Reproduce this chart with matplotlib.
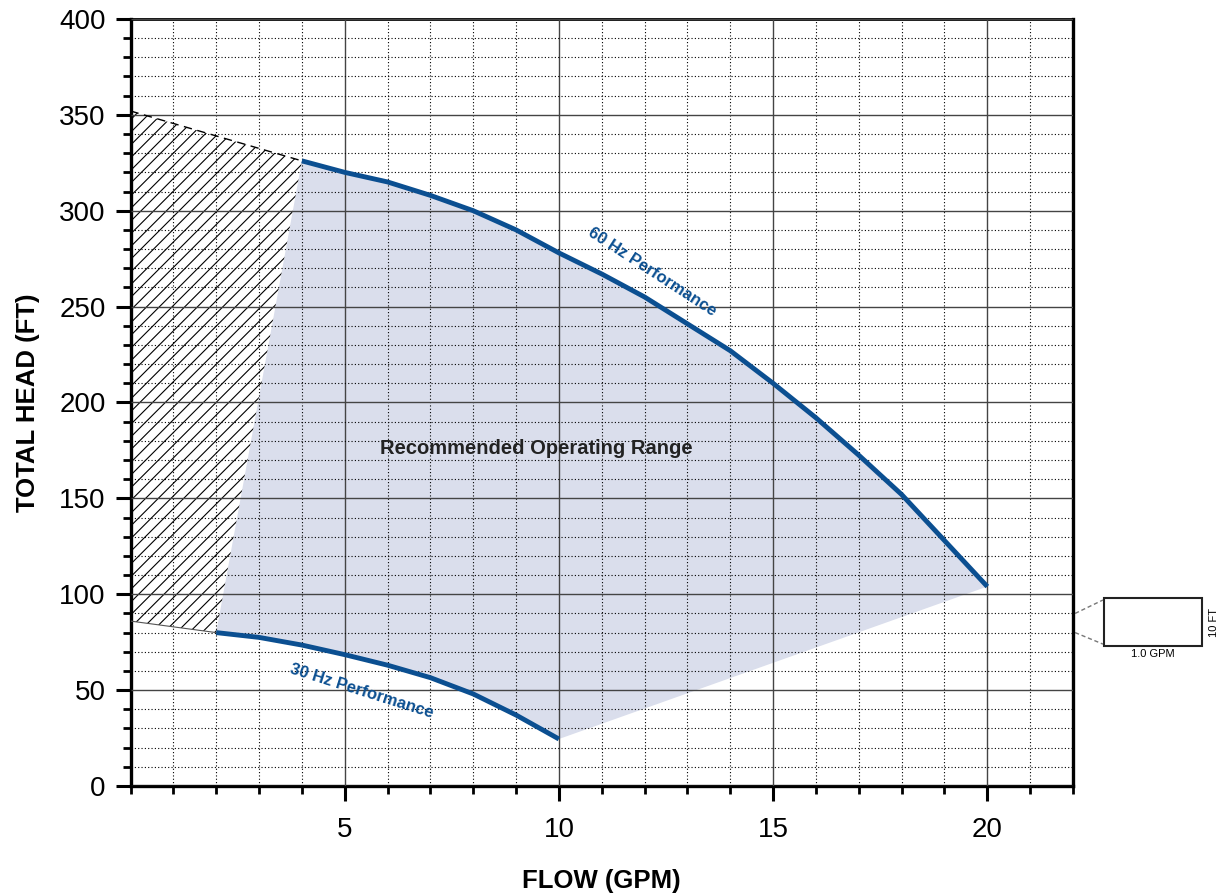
import matplotlib.pyplot as plt
import numpy as np
from matplotlib.patches import Polygon, Rectangle

plt.rcParams['font.family'] = ['Liberation Sans', 'DejaVu Sans']

# 60 Hz pump curve
hz60_flow = [4, 5, 6, 7, 8, 9, 10, 11, 12, 13, 14, 15, 16, 17, 18, 19, 20]
hz60_head = [326, 320, 315, 308, 300, 290, 278, 267, 255, 241, 227, 210, 192, 172.5, 152, 128, 104]
# 30 Hz pump curve
hz30_flow = [2, 3, 4, 5, 6, 7, 8, 9, 10]
hz30_head = [80, 77.5, 73.5, 68.5, 63, 56.5, 48, 37, 24.5]
# extension of the curves into the low-flow zone (hatched)
ext60_flow = [0, 2, 4]
ext60_head = [352, 339, 326]
ext30_flow = [0, 2]
ext30_head = [86, 80]

blue = '#0b4f91'

fig = plt.figure(figsize=(12.2, 8.94), dpi=100)
ax = fig.add_axes([0.107, 0.1208, 0.7725, 0.858])
ax.set_xlim(0, 22)
ax.set_ylim(0, 400)

# recommended range
rng = list(zip(hz60_flow, hz60_head)) + list(zip(hz30_flow[::-1], hz30_head[::-1]))
ax.add_patch(Polygon(rng, closed=True, facecolor='#dadeec', edgecolor='none', zorder=1))

# hatched low flow zone
hz = list(zip(ext60_flow, ext60_head)) + [(hz30_flow[0], hz30_head[0]), (ext30_flow[0], ext30_head[0])]
clip = Polygon(hz, closed=True, facecolor='none', edgecolor='none')
ax.add_patch(clip)
fig.canvas.draw()
ppx = ax.bbox.width / 22
ppy = ax.bbox.height / 400
k = ppx / ppy
dx = 12.7 / ppx
xx = np.array([-1, 6])
for c in np.arange(-20, 6, dx):
    ln, = ax.plot(xx, k * (xx - c), color='k', lw=0.8, zorder=1)
    ln.set_clip_path(clip)
ax.plot(ext60_flow, ext60_head, color='k', lw=1.0, ls=(0, (6, 4)), zorder=3, clip_on=False)
ax.plot(ext30_flow, ext30_head, color='#555555', lw=0.8, zorder=3)

# grid
ax.set_xticks(np.arange(5, 21, 5))
ax.set_xticks(np.arange(0, 23, 1), minor=True)
ax.set_yticks(np.arange(0, 401, 50))
ax.set_yticks(np.arange(0, 401, 10), minor=True)
ax.grid(which='major', color='#444444', lw=1.0, zorder=2)
ax.grid(which='minor', color='k', lw=0.8, ls=(0, (1, 2)), zorder=2)
ax.set_axisbelow(False)

ax.plot(hz60_flow, hz60_head, color=blue, lw=3.5, zorder=4, solid_capstyle='butt')
ax.plot(hz30_flow, hz30_head, color=blue, lw=3.5, zorder=4, solid_capstyle='butt')

ax.text(12.18, 268, '60 Hz Performance', color=blue, fontsize=12, fontweight='bold',
        rotation=-33, ha='center', va='center', zorder=5)
ax.text(5.4, 49.5, '30 Hz Performance', color=blue, fontsize=12, fontweight='bold',
        rotation=-17.5, ha='center', va='center', zorder=5)
ax.text(9.48, 176, 'Recommended Operating Range', color='#222222', fontsize=14.5,
        fontweight='bold', ha='center', va='center', zorder=5)

for s in ['left', 'bottom', 'right']:
    ax.spines[s].set_linewidth(2.4)
ax.spines['top'].set_linewidth(2.0)
ax.tick_params(which='major', length=11, width=2.2, labelsize=20)
ax.tick_params(which='minor', length=5.5, width=2.0)
ax.tick_params(axis='x', which='major', pad=11)
ax.tick_params(axis='y', which='major', pad=7)

ax.set_xlabel('FLOW (GPM)', fontsize=18.5, fontweight='bold')
ax.xaxis.set_label_coords(0.5, -0.108)
ax.set_ylabel('TOTAL HEAD (FT)', fontsize=18.5, fontweight='bold', labelpad=14)

# scale key
ax.add_patch(Rectangle((22.72, 73), 2.28, 25, facecolor='white', edgecolor='#222222',
                       lw=1.5, clip_on=False))
ax.plot([22.05, 22.7], [90, 97], color='#777777', lw=1, ls=(0, (3, 2)), clip_on=False)
ax.plot([22.05, 22.7], [80, 74], color='#777777', lw=1, ls=(0, (3, 2)), clip_on=False)
ax.text(23.87, 69, '1.0 GPM', fontsize=8, ha='center', va='center')
ax.text(25.3, 85.5, '10 FT', fontsize=8, rotation=90, ha='center', va='center')

fig.savefig('out.png', dpi=100)
